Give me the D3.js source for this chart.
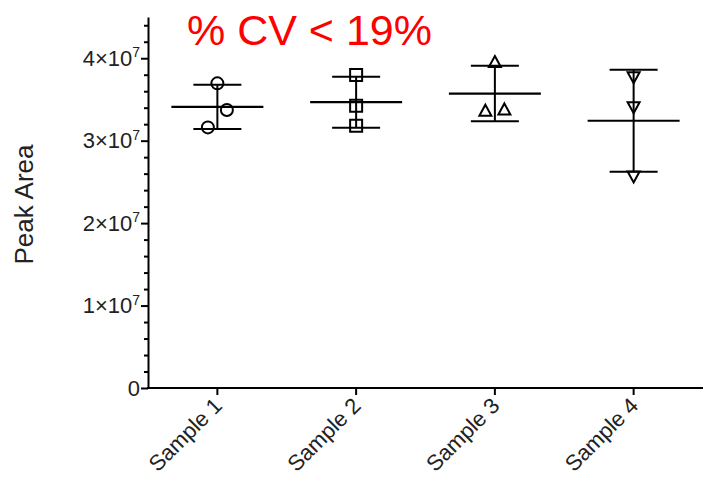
<!DOCTYPE html>
<html>
<head>
<meta charset="utf-8">
<script src="https://cdn.jsdelivr.net/npm/d3@7"></script>
<style>
  html, body { margin: 0; padding: 0; background: #fff; }
  svg { display: block; font-family: "Liberation Sans", Arial, Helvetica, sans-serif; }
</style>
</head>
<body>
<svg id="chart" width="706" height="477"></svg>
<script>
// Peak area replicates per sample (three injections each)
const samples = ["Sample 1", "Sample 2", "Sample 3", "Sample 4"];
const sample1 = [3.695e7, 3.372e7, 3.161e7];
const sample2 = [3.796e7, 3.424e7, 3.182e7];
const sample3 = [3.96e7, 3.37e7, 3.385e7];
const sample4 = [3.764e7, 3.40e7, 2.56e7];
const seriesValues = [sample1, sample2, sample3, sample4];
const symbolKinds = ["circle", "square", "triangleUp", "triangleDown"];
const majorTicks = [0, 1e7, 2e7, 3e7, 4e7];
const yMax = 4.5e7;
const titleText = "% CV < 19%";
const yTitle = "Peak Area";

const svg = d3.select("#chart");
const plot = { left: 148, right: 703, top: 17, bottom: 388 };
const labelFont = "'Liberation Sans', Arial, sans-serif";

const x = d3.scaleBand().domain(samples).range([plot.left, plot.right]).padding(0);
const y = d3.scaleLinear().domain([0, yMax]).range([plot.bottom, plot.top]);

// minor ticks every 2×10^6 below the top of the axis
const minorTicks = d3.range(0, 4.41e7, 2e6).filter(v => !majorTicks.some(m => Math.abs(m - v) < 1));

// ---- y axis ----
const yAxisG = svg.append("g").attr("transform", `translate(${plot.left},0)`);
yAxisG.call(d3.axisLeft(y).tickValues(majorTicks).tickSize(7).tickSizeOuter(0).tickPadding(1).tickFormat(() => ""));
yAxisG.select(".domain").attr("stroke", "#000").attr("stroke-width", 2);
yAxisG.selectAll(".tick line").attr("stroke", "#000").attr("stroke-width", 2);
yAxisG.selectAll(".tick text").each(function (d) {
  const t = d3.select(this).attr("font-size", 22).attr("fill", "#222").attr("font-family", labelFont);
  if (d === 0) {
    t.text("0");
  } else {
    const exp = Math.floor(Math.log10(d));
    const mant = Math.round(d / Math.pow(10, exp));
    t.text(null);
    t.append("tspan").text(mant + "\u00d710");
    t.append("tspan").attr("font-size", 14).attr("dy", "-0.6em").text(exp);
  }
});
const yMinorG = svg.append("g").attr("transform", `translate(${plot.left},0)`);
yMinorG.call(d3.axisLeft(y).tickValues(minorTicks).tickSize(4).tickFormat(""));
yMinorG.select(".domain").remove();
yMinorG.selectAll(".tick line").attr("stroke", "#000").attr("stroke-width", 2);

// ---- x axis ----
const xAxisG = svg.append("g").attr("transform", `translate(0,${plot.bottom})`);
xAxisG.call(d3.axisBottom(x).tickSize(7).tickSizeOuter(0));
xAxisG.select(".domain").attr("stroke", "#000").attr("stroke-width", 2)
  .attr("d", `M${plot.left - 1},0H${plot.right}`);
xAxisG.selectAll(".tick line").attr("stroke", "#000").attr("stroke-width", 2);
xAxisG.selectAll(".tick text")
  .attr("font-size", 22).attr("fill", "#222").attr("font-family", labelFont)
  .attr("text-anchor", "end")
  .attr("dy", null).attr("y", 0)
  .attr("transform", "translate(6,19) rotate(-45)");

// ---- axis title, centred on the y axis ----
svg.append("text")
  .attr("transform", `translate(33,${(plot.top + plot.bottom) / 2 + 2}) rotate(-90)`)
  .attr("text-anchor", "middle")
  .attr("font-size", 26).attr("fill", "#222").attr("font-family", labelFont)
  .text(yTitle);

// ---- chart title ----
svg.append("text")
  .attr("x", 187).attr("y", 45)
  .attr("font-size", 43).attr("fill", "#ff0000")
  .text(titleText);

// ---- symbols ----
function symbolPath(kind) {
  const s = 6;
  if (kind === "square") return `M${-s},${-s}H${s}V${s}H${-s}Z`;
  if (kind === "triangleUp") return "M0,-5.5L6,5.5L-6,5.5Z";
  return "M0,5.5L6,-5.5L-6,-5.5Z";
}

// spread points that sit close together vertically
function layoutPoints(vals, cx) {
  const pts = vals.map(v => ({ v, py: y(v) })).sort((a, b) => a.v - b.v);
  const groups = [];
  pts.forEach(p => {
    const g = groups[groups.length - 1];
    if (g && Math.abs(g[g.length - 1].py - p.py) < 18.5) g.push(p);
    else groups.push([p]);
  });
  groups.forEach(g => g.forEach((p, i) => { p.px = cx + (i - (g.length - 1) / 2) * 19; }));
  return pts;
}

const meanHalf = 46, capHalf = 24;

samples.forEach((name, i) => {
  const vals = seriesValues[i];
  const cx = x(name) + x.bandwidth() / 2;
  const m = d3.mean(vals);
  const sd = d3.deviation(vals);
  const g = svg.append("g").attr("fill", "none").attr("stroke", "#000");

  // error bar (mean ± SD) and mean line
  g.append("line").attr("x1", cx).attr("x2", cx).attr("y1", y(m + sd)).attr("y2", y(m - sd)).attr("stroke-width", 2);
  g.append("line").attr("x1", cx - capHalf).attr("x2", cx + capHalf).attr("y1", y(m + sd)).attr("y2", y(m + sd)).attr("stroke-width", 2);
  g.append("line").attr("x1", cx - capHalf).attr("x2", cx + capHalf).attr("y1", y(m - sd)).attr("y2", y(m - sd)).attr("stroke-width", 2);
  g.append("line").attr("x1", cx - meanHalf).attr("x2", cx + meanHalf).attr("y1", y(m)).attr("y2", y(m)).attr("stroke-width", 2.2);

  const pts = layoutPoints(vals, cx);
  const kind = symbolKinds[i];
  pts.forEach(p => {
    if (kind === "circle") {
      g.append("circle").attr("cx", p.px).attr("cy", p.py).attr("r", 6).attr("stroke-width", 2);
    } else {
      g.append("path").attr("d", symbolPath(kind))
        .attr("transform", `translate(${p.px},${p.py})`).attr("stroke-width", 2);
    }
  });
});
</script>
</body>
</html>
